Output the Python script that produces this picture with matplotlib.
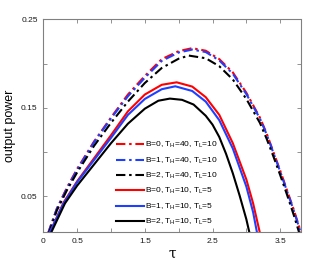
import matplotlib
matplotlib.use("Agg")
import matplotlib.pyplot as plt

plt.rcParams['font.family'] = ['Liberation Sans', 'DejaVu Sans']
plt.rcParams['mathtext.default'] = 'regular'

# --- data ---
tau_d0 = [0.07, 0.20, 0.35, 0.50, 0.75, 1.00, 1.25, 1.50, 1.75, 2.00, 2.20, 2.40, 2.60, 2.80, 3.00, 3.20, 3.30, 3.40, 3.50, 3.60, 3.70, 3.82]
p_d0 = [0.008, 0.036, 0.060, 0.081, 0.112, 0.139, 0.165, 0.186, 0.205, 0.214, 0.2174, 0.2145, 0.205, 0.190, 0.167, 0.139, 0.121, 0.100, 0.079, 0.057, 0.035, 0.006]

tau_d1 = [0.07, 0.20, 0.35, 0.50, 0.75, 1.00, 1.25, 1.50, 1.75, 2.00, 2.20, 2.40, 2.60, 2.80, 3.00, 3.20, 3.30, 3.40, 3.50, 3.60, 3.70, 3.82]
p_d1 = [0.008, 0.036, 0.059, 0.080, 0.111, 0.138, 0.163, 0.184, 0.203, 0.2125, 0.2158, 0.213, 0.2035, 0.1885, 0.1655, 0.138, 0.120, 0.099, 0.078, 0.056, 0.034, 0.005]

tau_d2 = [0.08, 0.20, 0.35, 0.50, 0.75, 1.00, 1.25, 1.50, 1.75, 2.00, 2.15, 2.40, 2.60, 2.80, 3.00, 3.20, 3.30, 3.40, 3.50, 3.60, 3.70, 3.80]
p_d2 = [0.008, 0.034, 0.057, 0.077, 0.107, 0.133, 0.157, 0.178, 0.195, 0.2055, 0.209, 0.206, 0.197, 0.182, 0.160, 0.133, 0.115, 0.095, 0.074, 0.052, 0.029, 0.004]

tau_s0 = [0.09, 0.30, 0.50, 0.75, 1.00, 1.25, 1.50, 1.75, 1.97, 2.20, 2.40, 2.60, 2.80, 3.00, 3.10, 3.22]
p_s0 = [0.008, 0.043, 0.067, 0.093, 0.119, 0.146, 0.165, 0.176, 0.1788, 0.174, 0.162, 0.142, 0.110, 0.069, 0.042, 0.002]

tau_s1 = [0.09, 0.30, 0.50, 0.75, 1.00, 1.25, 1.50, 1.75, 1.95, 2.20, 2.40, 2.60, 2.80, 3.00, 3.10, 3.16]
p_s1 = [0.008, 0.042, 0.066, 0.091, 0.116, 0.142, 0.160, 0.171, 0.1743, 0.169, 0.157, 0.136, 0.104, 0.061, 0.032, 0.008]

tau_s2 = [0.11, 0.32, 0.50, 0.75, 1.00, 1.25, 1.50, 1.70, 1.87, 2.05, 2.22, 2.40, 2.50, 2.60, 2.70, 2.80, 2.90, 3.00, 3.06]
p_s2 = [0.008, 0.042, 0.062, 0.086, 0.110, 0.132, 0.149, 0.158, 0.1604, 0.159, 0.1537, 0.141, 0.131, 0.117, 0.098, 0.076, 0.051, 0.024, 0.004]

labels = [r"B=0, T$_H$=40, T$_L$=10",
          r"B=1, T$_H$=40, T$_L$=10",
          r"B=2, T$_H$=40, T$_L$=10",
          r"B=0, T$_H$=10, T$_L$=5",
          r"B=1, T$_H$=10, T$_L$=5",
          r"B=2, T$_H$=10, T$_L$=5"]

xticks = [0, 0.5, 1, 1.5, 2, 2.5, 3, 3.5]
xticklabels = ['0', '0.5', '', '1.5', '', '2.5', '', '3.5']
yticks = [0.05, 0.1, 0.15, 0.2, 0.25]
yticklabels = ['0.05', '', '0.15', '', '0.25']

W, H = 332, 262
L, R, T, B = 43.3, 300.5, 19.3, 231.7
fig = plt.figure(figsize=(W / 100, H / 100), dpi=100)
ax = fig.add_axes([L / W, 1 - B / H, (R - L) / W, (B - T) / H])

red = '#ff0000'
blue = '#1f3fff'
black = '#000000'
dd = (4.5, 1.8, 1.2, 1.8)
lw = 1.5
ax.plot(tau_d0, p_d0, color=red, lw=lw, dashes=dd, label=labels[0])
ax.plot(tau_d1, p_d1, color=blue, lw=lw, dashes=dd, label=labels[1])
ax.plot(tau_d2, p_d2, color=black, lw=lw, dashes=dd, label=labels[2])
ax.plot(tau_s0, p_s0, color=red, lw=lw, label=labels[3])
ax.plot(tau_s1, p_s1, color=blue, lw=lw, label=labels[4])
ax.plot(tau_s2, p_s2, color=black, lw=lw, label=labels[5])

ax.set_xlim(0, 3.8)
ax.set_ylim(0.01, 0.25)
ax.set_xticks(xticks)
ax.set_xticklabels(xticklabels)
ax.set_yticks(yticks)
ax.set_yticklabels(yticklabels)

gray = '#808080'
for s in ax.spines.values():
    s.set_color(gray)
    s.set_linewidth(0.8)
ax.tick_params(direction='in', length=3, width=0.6, color=gray, labelsize=6,
               labelcolor='#1a1a1a', top=True, right=True)
ax.tick_params(axis='x', pad=4.5)
ax.tick_params(axis='y', pad=4)

ax.set_ylabel('output power', fontsize=9, labelpad=4)
ax.set_xlabel('τ', fontsize=10, family=['DejaVu Serif'], labelpad=1)

leg = ax.legend(loc='lower left', bbox_to_anchor=(0.27, 0.006), frameon=False,
                fontsize=6, handlelength=3.4, handletextpad=0.05,
                labelspacing=0.62, borderaxespad=0)

fig.savefig('out.png', dpi=100)
